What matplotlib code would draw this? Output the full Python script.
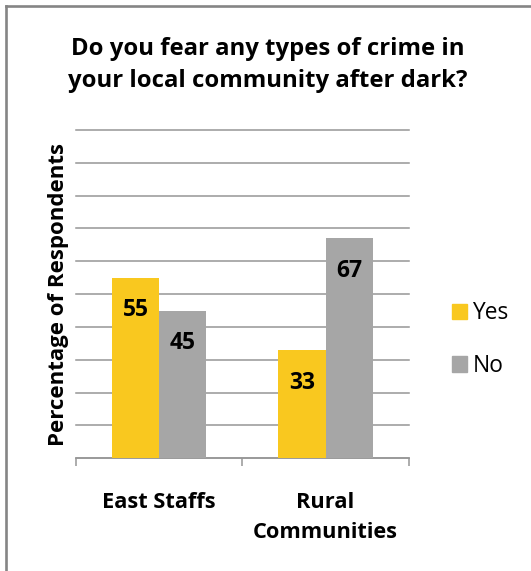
import numpy as np
import matplotlib
matplotlib.use('Agg')
import matplotlib.pyplot as plt
from matplotlib.lines import Line2D
from matplotlib.patches import Patch

# survey results (% of respondents)
regions=['East Staffs','Rural\nCommunities']
yes_pct=[55,33]
no_pct=[45,67]
series=['Yes','No']
colors=['#F9C81F','#A6A6A6']
grid_c='#969696'

plt.rcParams['font.family']=['Open Sans','DejaVu Sans']
fig=plt.figure(figsize=(5.31,5.71),dpi=100)
W,H=531,571
ax=fig.add_axes([76/W,1-458.3/H,332.7/W,328.3/H])

x=np.arange(len(regions)); w=0.283
b1=ax.bar(x-w/2,yes_pct,w,color=colors[0],zorder=3)
b2=ax.bar(x+w/2,no_pct,w,color=colors[1],zorder=3)
for bars,vals in ((b1,yes_pct),(b2,no_pct)):
    for r,v in zip(bars,vals):
        ax.annotate(f'{v}',(r.get_x()+r.get_width()/2,v),xytext=(0,-23.5),textcoords='offset points',
                    ha='center',va='center',fontsize=16.5,fontweight='bold',zorder=4)

ax.set_xlim(-0.5,1.5); ax.set_ylim(0,100)
ax.set_yticks(range(0,101,10)); ax.set_yticklabels([])
ax.tick_params(axis='y',length=0)
ax.yaxis.grid(True,color=grid_c,lw=1.1,zorder=0)
for gl in ax.get_ygridlines(): gl.set_clip_on(False)
for s in ('left','top','right'): ax.spines[s].set_visible(False)
ax.spines['bottom'].set_color(grid_c); ax.spines['bottom'].set_linewidth(1.1)
ax.set_xticks(x); ax.set_xticklabels(regions,fontsize=15.7,fontweight='bold',linespacing=1.6)
ax.tick_params(axis='x',which='major',length=0,pad=24)
ax.set_xticks([-0.5,0.5,1.5],minor=True)
ax.tick_params(axis='x',which='minor',length=5.8,width=1.1,color=grid_c,direction='out')
ax.set_ylabel('Percentage of Respondents',fontsize=16,fontweight='bold')
ax.yaxis.set_label_coords(-0.02,0.5)

fig.text(0.505,1-86.7/H,'Do you fear any types of crime in\nyour local community after dark?',
         ha='center',va='baseline',fontsize=17.2,fontweight='bold',linespacing=1.42)

handles=[Patch(color=c,label=l) for c,l in zip(colors,series)]
fig.legend(handles=handles,loc='center left',bbox_to_anchor=(451.7/W,1-339.7/H),frameon=False,
           fontsize=16.4,handlelength=0.66,handleheight=0.66,handletextpad=0.25,labelspacing=1.25,
           borderpad=0,borderaxespad=0)

# chart frame (only top/left edges fall inside the image)
fig.add_artist(Line2D([5.5/W,5.5/W],[0,1-5.5/H],color='#858585',lw=1.9,transform=fig.transFigure))
fig.add_artist(Line2D([5.5/W,1],[1-5.5/H,1-5.5/H],color='#858585',lw=1.9,transform=fig.transFigure))

fig.savefig('out.png',dpi=100)
